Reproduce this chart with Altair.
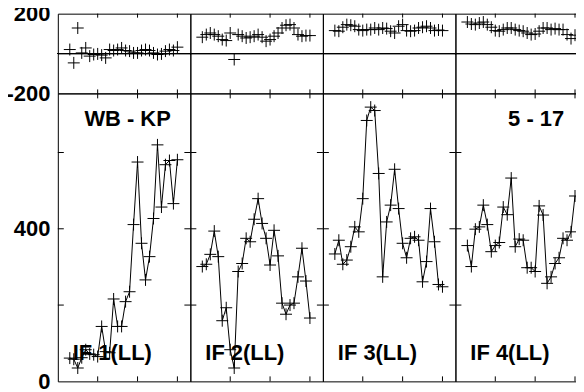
import altair as alt
import pandas as pd

FONT = "Liberation Sans"

# ---- data ----
channels = list(range(3, 31))  # 28 spectral channels per IF

amp_if1 = [61, 58, 35, 62, 83, 72, 70, 65, 144, 78, 75, 216, 144, 144,
           209, 235, 411, 575, 362, 266, 327, 427, 620, 457, 568, 579, 466, 581]
amp_if2 = [301, 307, 333, 394, 327, 159, 193, 83, 35, 288, 309, 375, 366, 425,
           479, 414, 375, 305, 396, 329, 205, 176, 200, 205, 274, 349, 263, 166]
amp_if3 = [334, 370, 307, 318, 353, 405, 392, 479, 684, 719, 710, 545, 274, 418,
           462, 556, 453, 362, 324, 375, 379, 370, 261, 314, 453, 366, 254, 248]
amp_if4 = [356, 301, 399, 405, 462, 411, 340, 356, 364, 457, 437, 533, 353, 373,
           370, 298, 298, 288, 460, 436, 257, 274, 309, 324, 375, 370, 392, 486]

phase_if1 = [20, -47, 128, 3, 28, -13, -5, -2, -8, -22, 20, 15, 20, 28,
             15, 12, 3, 3, 15, 20, 15, 3, -5, -2, 12, 20, 15, 32]
phase_if2 = [82, 95, 103, 95, 87, 70, 65, 103, -30, 95, 87, 78, 82, 87,
             95, 82, 62, 70, 87, 103, 128, 142, 145, 128, 95, 87, 90, 90]
phase_if3 = [115, 112, 132, 145, 142, 137, 120, 115, 120, 120, 128, 120, 128, 125,
             112, 103, 137, 145, 115, 112, 115, 128, 132, 137, 128, 115, 118, 115]
phase_if4 = [158, 148, 145, 153, 158, 145, 132, 115, 112, 120, 128, 128, 120, 115,
             112, 103, 95, 98, 112, 128, 128, 120, 125, 120, 120, 95, 75, 92]

if_labels = ["IF 1(LL)", "IF 2(LL)", "IF 3(LL)", "IF 4(LL)"]
baseline_label = "WB - KP"
time_label = "5 - 17"

x_tick_values = [10, 20, 30]
amp_tick_values = [200, 400, 600]
phase_label_values = [-200, 200]
amp_label_values = [0, 400]

# ---- layout ----
W = 133
H_PH = 80
H_AMP = 289
CROSS = "M-1,0L1,0M0,-1L0,1"

xscale = alt.Scale(domain=[0, 33.25], nice=False, zero=False)
ph_scale = alt.Scale(domain=[-200, 200], nice=False, zero=False)
amp_scale = alt.Scale(domain=[0, 755], nice=False, zero=False)

xtick_df = pd.DataFrame({"t": x_tick_values})
ytick_df = pd.DataFrame({"v": amp_tick_values})


def y_axis(values):
    return alt.Axis(values=values, ticks=False, domain=False, grid=False, title=None,
                    labelPadding=8, labelFontSize=22, labelFont=FONT,
                    labelFontWeight="bold", labelColor="black", labelFlush=False,
                    labelBaseline="middle", labelOverlap=False, labelBound=False,
                    labelExpr="datum.value < 0 ? '-' + abs(datum.value) : datum.label")


def x_ticks(height, length):
    top = alt.Chart(xtick_df).mark_rule(color="black", strokeWidth=1).encode(
        x=alt.X("t:Q", scale=xscale, axis=None), y=alt.value(0), y2=alt.value(length))
    bot = alt.Chart(xtick_df).mark_rule(color="black", strokeWidth=1).encode(
        x=alt.X("t:Q", scale=xscale, axis=None), y=alt.value(height),
        y2=alt.value(height - length))
    return [top, bot]


def phase_panel(phases, first):
    df = pd.DataFrame({"ch": channels, "ph": phases})
    ax = y_axis(phase_label_values) if first else None
    pts = alt.Chart(df).mark_point(shape=CROSS, size=144, stroke="black",
                                   strokeWidth=1, filled=False, opacity=1).encode(
        x=alt.X("ch:Q", scale=xscale, axis=None),
        y=alt.Y("ph:Q", scale=ph_scale, axis=ax))
    zero = alt.Chart(df).mark_rule(color="black", strokeWidth=1).encode(
        y=alt.Y(datum=0, scale=ph_scale, axis=ax))
    return alt.layer(pts, zero, *x_ticks(H_PH, 4)).properties(width=W, height=H_PH)


def amp_panel(amps, idx):
    first = idx == 0
    df = pd.DataFrame({"ch": channels, "amp": amps})
    ax = y_axis(amp_label_values) if first else None
    base = alt.Chart(df).encode(
        x=alt.X("ch:Q", scale=xscale, axis=None),
        y=alt.Y("amp:Q", scale=amp_scale, axis=ax))
    line = base.mark_line(color="black", strokeWidth=1)
    pts = base.mark_point(shape=CROSS, size=144, stroke="black", strokeWidth=1,
                          filled=False, opacity=1)
    yl = alt.Chart(ytick_df).mark_rule(color="black", strokeWidth=1).encode(
        y=alt.Y("v:Q", scale=amp_scale, axis=ax), x=alt.value(0), x2=alt.value(6))
    yr = alt.Chart(ytick_df).mark_rule(color="black", strokeWidth=1).encode(
        y=alt.Y("v:Q", scale=amp_scale, axis=ax), x=alt.value(W), x2=alt.value(W - 6))
    layers = [line, pts, yl, yr] + x_ticks(H_AMP, 5)
    lab = alt.Chart(pd.DataFrame({"s": [if_labels[idx]]})).mark_text(
        align="left", baseline="middle", font=FONT, fontSize=22, fontWeight="bold",
        color="black").encode(x=alt.value(15), y=alt.value(261), text="s:N")
    layers.append(lab)
    if idx == 0:
        layers.append(alt.Chart(pd.DataFrame({"s": [baseline_label]})).mark_text(
            align="center", baseline="middle", font=FONT, fontSize=22,
            fontWeight="bold", color="black").encode(
            x=alt.value(70), y=alt.value(26), text="s:N"))
    if idx == 3:
        layers.append(alt.Chart(pd.DataFrame({"s": [time_label]})).mark_text(
            align="center", baseline="middle", font=FONT, fontSize=22,
            fontWeight="bold", color="black").encode(
            x=alt.value(81), y=alt.value(26), text="s:N"))
    return alt.layer(*layers).properties(width=W, height=H_AMP)


phases = [phase_if1, phase_if2, phase_if3, phase_if4]
amps = [amp_if1, amp_if2, amp_if3, amp_if4]

cells = [phase_panel(phases[i], i == 0) for i in range(4)] + \
        [amp_panel(amps[i], i) for i in range(4)]

chart = alt.concat(*cells, columns=4, spacing=0, bounds="flush").properties(
    padding={"left": -3, "top": -7, "right": -13, "bottom": 0},
    background="white",
).configure_view(stroke="black", strokeWidth=1)

chart.save("out.html", embed_options={"renderer": "svg", "actions": False})
